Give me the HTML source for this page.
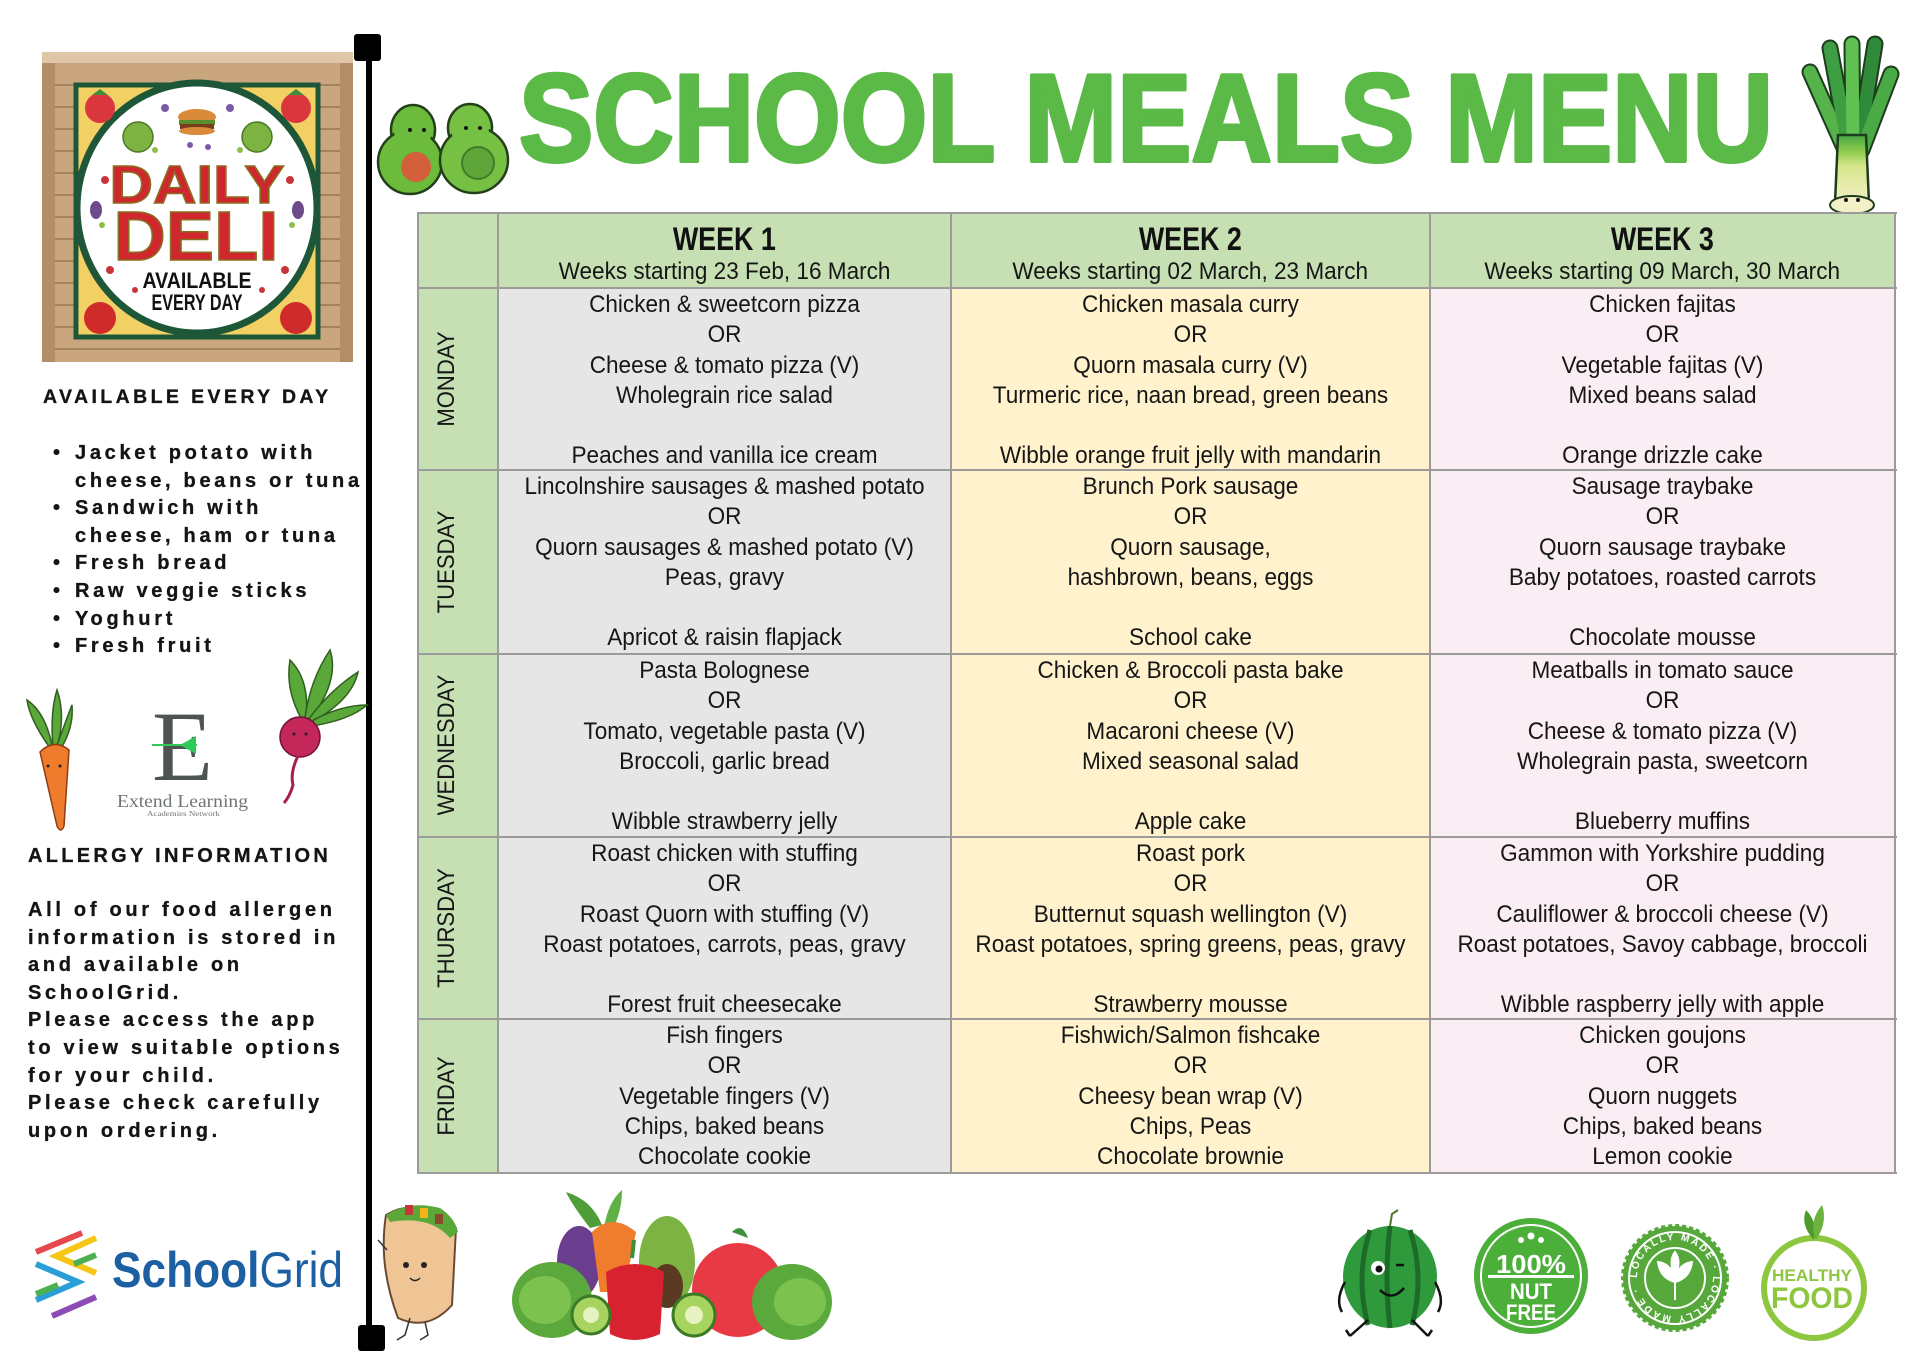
<!DOCTYPE html>
<html><head><meta charset="utf-8">
<style>
html,body{margin:0;padding:0;}
body{width:1920px;height:1356px;position:relative;overflow:hidden;background:#fff;font-family:"Liberation Sans",Arial,sans-serif;}
svg.bg{position:absolute;left:0;top:0;}
.cell{position:absolute;box-sizing:border-box;}
.txt{position:absolute;box-sizing:border-box;text-align:center;font-size:24px;line-height:30.3px;color:#161616;white-space:nowrap;padding-top:2px;}
.txt>div{transform:scaleX(0.94);}
.hl{position:absolute;height:2px;background:#9b9b9b;left:417px;width:1480px;}
.vl{position:absolute;width:2px;background:#9b9b9b;top:212px;height:962px;}
.day{position:absolute;font-size:24px;line-height:24px;color:#161616;white-space:nowrap;transform:translate(-50%,-50%) rotate(-90deg) scaleX(0.92);}
.wk{position:absolute;text-align:center;font-weight:bold;font-size:32px;line-height:32px;color:#111;white-space:nowrap;}
.wk span{display:inline-block;transform:scaleX(0.84);}
.ws{position:absolute;text-align:center;font-size:24px;line-height:30.3px;color:#161616;white-space:nowrap;}
.ws span{display:inline-block;transform:scaleX(0.94);}
.lt{position:absolute;font-weight:bold;font-size:20px;letter-spacing:3.7px;color:#141414;white-space:nowrap;line-height:27.6px;-webkit-text-stroke:0.3px #141414;}
.lt .b{position:absolute;left:-22px;}
</style></head><body>

<svg class="bg" width="1920" height="1356" viewBox="0 0 1920 1356" xmlns="http://www.w3.org/2000/svg">
<defs>
<linearGradient id="stalk" x1="0" y1="0" x2="0" y2="1">
<stop offset="0" stop-color="#47a844"/><stop offset="0.25" stop-color="#8fcb4e"/><stop offset="0.45" stop-color="#d6e68a"/><stop offset="1" stop-color="#f4efc8"/>
</linearGradient>
<path id="sealpath" d="M1675,1278 m-38,0 a38,38 0 1,1 76,0 a38,38 0 1,1 -76,0"/>
</defs>

<!-- Title -->
<text x="519" y="161" font-family="Liberation Sans, sans-serif" font-weight="bold" font-size="124" textLength="1254" lengthAdjust="spacingAndGlyphs" fill="#5bb947" stroke="#5bb947" stroke-width="4" stroke-linejoin="round">SCHOOL MEALS MENU</text>

<!-- Pole -->
<rect x="366" y="50" width="6" height="1285" fill="#000"/>
<rect x="354" y="34" width="27" height="27" rx="3" fill="#000"/>
<rect x="358" y="1325" width="27" height="26" rx="3" fill="#000"/>

<!-- Daily Deli sign -->
<g>
<rect x="42" y="52" width="311" height="310" fill="#c9a67e"/>
<rect x="42" y="52" width="311" height="11" fill="#dfc6a6"/>
<rect x="42" y="63" width="13" height="299" fill="#b38d66"/>
<rect x="340" y="63" width="13" height="299" fill="#b38d66"/>
<g stroke="#8a6846" stroke-width="1.5" opacity="0.75">
<line x1="55" y1="85" x2="340" y2="85"/><line x1="55" y1="107" x2="340" y2="107"/><line x1="55" y1="129" x2="340" y2="129"/>
<line x1="55" y1="151" x2="340" y2="151"/><line x1="55" y1="173" x2="340" y2="173"/><line x1="55" y1="195" x2="340" y2="195"/>
<line x1="55" y1="217" x2="340" y2="217"/><line x1="55" y1="239" x2="340" y2="239"/><line x1="55" y1="261" x2="340" y2="261"/>
<line x1="55" y1="283" x2="340" y2="283"/><line x1="55" y1="305" x2="340" y2="305"/><line x1="55" y1="327" x2="340" y2="327"/>
<line x1="55" y1="349" x2="340" y2="349"/>
</g>
<rect x="76" y="85" width="242" height="252" fill="#f3d064" stroke="#1e5638" stroke-width="5"/>
<ellipse cx="197" cy="208" rx="120" ry="125" fill="#fff" stroke="#1e5638" stroke-width="7"/>
<circle cx="100" cy="108" r="15" fill="#d9363e"/><circle cx="296" cy="108" r="15" fill="#d9363e"/>
<path d="M92,95 l8,-6 l8,6" fill="#3f8f3a"/><path d="M288,95 l8,-6 l8,6" fill="#3f8f3a"/>
<circle cx="100" cy="318" r="16" fill="#cf2b2b"/><circle cx="296" cy="318" r="16" fill="#cf2b2b"/>
<circle cx="138" cy="137" r="15" fill="#7cb342" stroke="#4b7a25" stroke-width="1.5"/>
<circle cx="257" cy="137" r="15" fill="#7cb342" stroke="#4b7a25" stroke-width="1.5"/>
<ellipse cx="197" cy="117" rx="19" ry="8" fill="#d98b3a"/>
<rect x="179" y="120" width="36" height="5" fill="#5a8f2e"/>
<rect x="180" y="124" width="34" height="5" fill="#7a3b1e"/>
<ellipse cx="197" cy="131" rx="18" ry="4" fill="#d98b3a"/>
<g fill="#7a5aa6"><circle cx="165" cy="108" r="4"/><circle cx="230" cy="108" r="4"/><circle cx="190" cy="145" r="3"/><circle cx="208" cy="147" r="3"/></g>
<g fill="#c8343a"><circle cx="105" cy="180" r="4"/><circle cx="290" cy="180" r="4"/><circle cx="110" cy="270" r="4"/><circle cx="285" cy="270" r="4"/><circle cx="135" cy="290" r="3"/><circle cx="262" cy="290" r="3"/></g>
<g fill="#8bbf4a"><circle cx="155" cy="150" r="3"/><circle cx="240" cy="150" r="3"/><circle cx="102" cy="225" r="3"/><circle cx="292" cy="225" r="3"/></g>
<ellipse cx="96" cy="210" rx="6" ry="9" fill="#6d4a8c"/><ellipse cx="298" cy="210" rx="6" ry="9" fill="#6d4a8c"/>
<text x="197" y="203" text-anchor="middle" font-family="Liberation Sans, sans-serif" font-weight="bold" font-size="54" textLength="175" lengthAdjust="spacingAndGlyphs" fill="#d0262d" stroke="#8a6d1f" stroke-width="1.5">DAILY</text>
<text x="196" y="260" text-anchor="middle" font-family="Liberation Sans, sans-serif" font-weight="bold" font-size="70" textLength="165" lengthAdjust="spacingAndGlyphs" fill="#d0262d" stroke="#8a6d1f" stroke-width="1.5">DELI</text>
<text x="197" y="288" text-anchor="middle" font-family="Liberation Sans, sans-serif" font-weight="bold" font-size="22" textLength="109" lengthAdjust="spacingAndGlyphs" fill="#111">AVAILABLE</text>
<text x="197" y="310" text-anchor="middle" font-family="Liberation Sans, sans-serif" font-weight="bold" font-size="22" textLength="91" lengthAdjust="spacingAndGlyphs" fill="#111">EVERY DAY</text>
</g>

<!-- Avocados -->
<g stroke="#23401a" stroke-width="2.5">
<ellipse cx="413" cy="130" rx="22" ry="25" fill="#6cbb3c"/>
<ellipse cx="410" cy="162" rx="32" ry="32" fill="#6cbb3c"/>
<ellipse cx="470" cy="128" rx="22" ry="24" fill="#76c043"/>
<ellipse cx="474" cy="160" rx="34" ry="33" fill="#76c043"/>
</g>
<ellipse cx="413" cy="130" rx="19" ry="22" fill="#6cbb3c"/>
<ellipse cx="470" cy="128" rx="19" ry="21" fill="#76c043"/>
<circle cx="416" cy="167" r="15" fill="#d3603a"/>
<circle cx="478" cy="163" r="16" fill="#5ea63a" stroke="#3d7d2a" stroke-width="2"/>
<g fill="#111"><circle cx="410" cy="130" r="2"/><circle cx="424" cy="130" r="2"/><circle cx="466" cy="128" r="2"/><circle cx="480" cy="128" r="2"/></g>

<!-- Leek -->
<g stroke-linecap="round">
<g stroke="#1d3d1d" stroke-width="17">
<line x1="1845" y1="150" x2="1810" y2="72"/><line x1="1849" y1="150" x2="1830" y2="48"/>
<line x1="1853" y1="150" x2="1852" y2="44"/><line x1="1858" y1="150" x2="1875" y2="44"/>
<line x1="1862" y1="150" x2="1891" y2="74"/>
</g>
<line x1="1845" y1="150" x2="1810" y2="72" stroke="#55b34a" stroke-width="13"/>
<line x1="1849" y1="150" x2="1830" y2="48" stroke="#3e9e42" stroke-width="13"/>
<line x1="1858" y1="150" x2="1875" y2="44" stroke="#2f8a3a" stroke-width="13"/>
<line x1="1862" y1="150" x2="1891" y2="74" stroke="#4aaa45" stroke-width="13"/>
<line x1="1853" y1="150" x2="1852" y2="44" stroke="#60c052" stroke-width="13"/>
</g>
<path d="M1838,135 L1866,135 L1869,203 L1835,203 Z" fill="url(#stalk)" stroke="#1d3d1d" stroke-width="2.5"/>
<ellipse cx="1852" cy="205" rx="22" ry="9" fill="#f3efc6" stroke="#1d3d1d" stroke-width="2"/>
<circle cx="1846" cy="200" r="2" fill="#111"/><circle cx="1858" cy="200" r="2" fill="#111"/>

<!-- Carrot -->
<g fill="#5aa83a" stroke="#2f5e1e" stroke-width="1.5">
<path d="M50,748 Q30,720 27,700 Q45,712 52,745 Z"/>
<path d="M53,748 Q50,712 57,690 Q66,715 57,748 Z"/>
<path d="M56,748 Q68,715 72,705 Q74,728 60,750 Z"/>
</g>
<path d="M40,752 Q54,738 69,750 L64,826 Q61,834 57,826 Z" fill="#ef7b2c" stroke="#8e3d12" stroke-width="1.5"/>
<circle cx="48" cy="766" r="1.5" fill="#222"/><circle cx="60" cy="766" r="1.5" fill="#222"/>

<!-- Extend Learning logo -->
<text x="152" y="780" font-family="Liberation Serif, serif" font-size="100" textLength="61" lengthAdjust="spacingAndGlyphs" fill="#4d5453">E</text>
<rect x="152" y="744" width="45" height="2" fill="#2fc95a"/>
<path d="M180,745 L196,736 L196,754 Z" fill="#2fc95a"/>
<text x="117" y="807" font-family="Liberation Serif, serif" font-size="18" textLength="131" lengthAdjust="spacingAndGlyphs" fill="#6f7573">Extend Learning</text>
<text x="147" y="816" font-family="Liberation Serif, serif" font-size="7" textLength="73" lengthAdjust="spacingAndGlyphs" fill="#6f7573">Academies Network</text>

<!-- Beetroot -->
<g fill="#5aa83a" stroke="#2f5e1e" stroke-width="1.5">
<path d="M302,720 Q285,690 290,660 Q310,680 306,718 Z"/>
<path d="M305,718 Q310,680 330,650 Q340,680 310,720 Z"/>
<path d="M308,720 Q330,690 358,672 Q352,700 312,722 Z"/>
<path d="M310,722 Q340,705 367,705 Q350,720 312,726 Z"/>
</g>
<circle cx="300" cy="737" r="20" fill="#c4275a" stroke="#6e1432" stroke-width="1.5"/>
<path d="M298,756 Q290,772 293,785 Q290,796 284,803" fill="none" stroke="#a81e4b" stroke-width="3"/>
<circle cx="294" cy="734" r="1.5" fill="#222"/><circle cx="306" cy="734" r="1.5" fill="#222"/>

<!-- SchoolGrid logo -->
<g fill="none" stroke-width="6" stroke-linecap="butt">
<line x1="36" y1="1252" x2="82" y2="1233" stroke="#e5484d"/>
<polyline points="96,1238 56,1256 96,1273" stroke="#f5c518"/>
<line x1="74" y1="1264" x2="96" y2="1255" stroke="#4caf50"/>
<polyline points="36,1264 78,1282 36,1300" stroke="#2a9fd6"/>
<line x1="36" y1="1294" x2="58" y2="1285" stroke="#4caf50"/>
<line x1="52" y1="1316" x2="96" y2="1297" stroke="#8e4bb5"/>
</g>
<text x="112" y="1287" font-family="Liberation Sans, sans-serif" font-size="50" fill="#1d5fa3" textLength="231" lengthAdjust="spacingAndGlyphs"><tspan font-weight="bold">School</tspan>Grid</text>

<!-- Burrito -->
<path d="M386,1215 Q420,1195 456,1228 L452,1305 Q428,1332 398,1318 Q378,1265 386,1215 Z" fill="#f0c596" stroke="#6b4a33" stroke-width="2"/>
<path d="M386,1215 Q410,1200 440,1208 Q455,1218 458,1232 L450,1238 Q430,1215 390,1222 Z" fill="#5aa83a"/>
<rect x="405" y="1205" width="8" height="10" fill="#c8343a"/><rect x="420" y="1208" width="8" height="10" fill="#f2b418"/><rect x="435" y="1214" width="8" height="10" fill="#8a4a2a"/>
<circle cx="406" cy="1265" r="3" fill="#222"/><circle cx="424" cy="1265" r="3" fill="#222"/>
<path d="M410,1278 Q415,1283 420,1278" fill="none" stroke="#222" stroke-width="1.5"/>
<path d="M410,1318 L405,1335 L397,1340 M425,1322 L428,1335 L420,1340 M387,1250 L378,1240" fill="none" stroke="#333" stroke-width="1.5"/>

<!-- Vegetable pile -->
<path d="M590,1228 Q572,1205 566,1192 Q592,1200 602,1225 Z" fill="#4f9e3a"/>
<path d="M604,1228 Q608,1202 622,1190 Q622,1212 612,1230 Z" fill="#5fb146"/>
<ellipse cx="579" cy="1262" rx="22" ry="36" fill="#6a3d8f"/>
<path d="M592,1232 Q612,1212 636,1232 L624,1292 L600,1292 Z" fill="#ef7d2d"/>
<ellipse cx="667" cy="1262" rx="28" ry="46" fill="#7cb342"/>
<ellipse cx="667" cy="1286" rx="16" ry="22" fill="#5a3a22"/>
<path d="M732,1232 Q742,1222 748,1238 Z" fill="#3f8f3a"/>
<ellipse cx="738" cy="1290" rx="46" ry="47" fill="#e73a45"/>
<ellipse cx="552" cy="1300" rx="40" ry="38" fill="#5ba83c"/>
<ellipse cx="545" cy="1300" rx="26" ry="24" fill="#7cc24e"/>
<path d="M606,1272 Q635,1256 664,1272 L660,1334 Q634,1346 610,1334 Z" fill="#d9222f"/>
<path d="M632,1258 L634,1240" stroke="#3f8f3a" stroke-width="4"/>
<ellipse cx="792" cy="1302" rx="40" ry="38" fill="#5ba83c"/>
<ellipse cx="800" cy="1302" rx="26" ry="24" fill="#7cc24e"/>
<circle cx="591" cy="1315" r="19" fill="#a6d45e" stroke="#3d7a25" stroke-width="3"/>
<circle cx="591" cy="1315" r="8" fill="#e6f2c2"/>
<circle cx="694" cy="1315" r="21" fill="#a6d45e" stroke="#3d7a25" stroke-width="3"/>
<circle cx="694" cy="1315" r="9" fill="#e6f2c2"/>

<!-- Watermelon -->
<ellipse cx="1390" cy="1277" rx="47" ry="51" fill="#2f9a3c"/>
<g fill="none" stroke="#1c6b28" stroke-width="5">
<path d="M1370,1230 Q1355,1277 1368,1325"/><path d="M1390,1226 Q1384,1277 1390,1328"/><path d="M1410,1230 Q1425,1277 1412,1325"/>
</g>
<path d="M1390,1226 l2,-12 l6,-4" fill="none" stroke="#4a7a2a" stroke-width="2"/>
<circle cx="1378" cy="1268" r="7" fill="#fff"/><circle cx="1379" cy="1269" r="3.5" fill="#111"/>
<path d="M1396,1265 l8,0" stroke="#111" stroke-width="2.5"/>
<path d="M1380,1290 Q1392,1302 1404,1288" fill="none" stroke="#111" stroke-width="2.5"/>
<path d="M1368,1320 L1350,1336 M1350,1336 l-4,-6 M1412,1320 L1428,1336 M1428,1336 l4,-6 M1345,1282 Q1335,1300 1342,1312 M1435,1282 Q1445,1300 1438,1312" fill="none" stroke="#111" stroke-width="2.5"/>

<!-- Nut free badge -->
<ellipse cx="1531" cy="1276" rx="57" ry="58" fill="#4caf3a"/>
<ellipse cx="1531" cy="1276" rx="50" ry="51" fill="none" stroke="#fff" stroke-width="2"/>
<rect x="1488" y="1275" width="86" height="3" fill="#fff"/>
<g fill="#fff"><circle cx="1521" cy="1240" r="3"/><circle cx="1531" cy="1236" r="3.5"/><circle cx="1541" cy="1240" r="3"/></g>
<text x="1531" y="1273" text-anchor="middle" font-family="Liberation Sans, sans-serif" font-weight="bold" font-size="26" fill="#fff" textLength="70" lengthAdjust="spacingAndGlyphs">100%</text>
<text x="1531" y="1299" text-anchor="middle" font-family="Liberation Sans, sans-serif" font-weight="bold" font-size="22" fill="#fff" textLength="42" lengthAdjust="spacingAndGlyphs">NUT</text>
<text x="1531" y="1320" text-anchor="middle" font-family="Liberation Sans, sans-serif" font-weight="bold" font-size="22" fill="#fff" textLength="50" lengthAdjust="spacingAndGlyphs">FREE</text>

<!-- Locally made seal -->
<circle cx="1675" cy="1278" r="52" fill="#56a83b" stroke="#56a83b" stroke-width="4" stroke-dasharray="4 3"/>
<circle cx="1675" cy="1278" r="46" fill="none" stroke="#fff" stroke-width="2"/>
<circle cx="1675" cy="1278" r="30" fill="none" stroke="#fff" stroke-width="2"/>
<text font-family="Liberation Sans, sans-serif" font-weight="bold" font-size="10" fill="#fff" letter-spacing="2"><textPath href="#sealpath">LOCALLY MADE · LOCALLY MADE ·</textPath></text>
<path d="M1675,1300 L1675,1275 M1675,1282 Q1660,1278 1658,1262 Q1672,1264 1675,1280 M1675,1282 Q1690,1278 1692,1262 Q1678,1264 1675,1280 M1675,1275 Q1668,1262 1675,1252 Q1682,1262 1675,1275" fill="#fff" stroke="#fff" stroke-width="2"/>

<!-- Healthy food -->
<circle cx="1814" cy="1288" r="50" fill="#fff" stroke="#8dc63f" stroke-width="6"/>
<path d="M1814,1240 Q1800,1225 1806,1210 Q1818,1222 1814,1240 Z" fill="#4e9a2e"/>
<path d="M1816,1240 Q1828,1222 1822,1205 Q1808,1222 1816,1240 Z" fill="#6cb33f"/>
<text x="1812" y="1281" text-anchor="middle" font-family="Liberation Sans, sans-serif" font-weight="bold" font-size="17" fill="#8dc63f" textLength="80" lengthAdjust="spacingAndGlyphs">HEALTHY</text>
<text x="1812" y="1308" text-anchor="middle" font-family="Liberation Sans, sans-serif" font-weight="bold" font-size="30" fill="#8dc63f" textLength="82" lengthAdjust="spacingAndGlyphs">FOOD</text>
</svg>

<!-- Left panel text -->
<div class="lt" style="left:43px;top:384px;font-size:19.5px;letter-spacing:3.4px;">AVAILABLE EVERY DAY</div>
<div class="lt" style="left:75px;top:440px;">
<div><span class="b">•</span>Jacket potato with</div>
<div>cheese, beans or tuna</div>
<div><span class="b">•</span>Sandwich with</div>
<div>cheese, ham or tuna</div>
<div><span class="b">•</span>Fresh bread</div>
<div><span class="b">•</span>Raw veggie sticks</div>
<div><span class="b">•</span>Yoghurt</div>
<div><span class="b">•</span>Fresh fruit</div>
</div>
<div class="lt" style="left:28px;top:843px;letter-spacing:3.3px;">ALLERGY INFORMATION</div>
<div class="lt" style="left:28px;top:897px;">
<div>All of our food allergen</div>
<div>information is stored in</div>
<div>and available on</div>
<div>SchoolGrid.</div>
<div>Please access the app</div>
<div>to view suitable options</div>
<div>for your child.</div>
<div>Please check carefully</div>
<div>upon ordering.</div>
</div>

<!-- Table backgrounds -->
<div class="cell" style="left:418px;top:213px;width:1477px;height:75px;background:#c6e0b4;"></div>
<div class="cell" style="left:418px;top:288px;width:80px;height:885px;background:#c6e0b4;"></div>
<div class="cell" style="left:498px;top:288px;width:453px;height:885px;background:#e7e6e6;"></div>
<div class="cell" style="left:951px;top:288px;width:479px;height:885px;background:#fff2cc;"></div>
<div class="cell" style="left:1430px;top:288px;width:465px;height:885px;background:#fbedf4;"></div>

<!-- Grid lines -->
<div class="hl" style="top:212px"></div>
<div class="hl" style="top:287px"></div>
<div class="hl" style="top:469px"></div>
<div class="hl" style="top:653px"></div>
<div class="hl" style="top:836px"></div>
<div class="hl" style="top:1018px"></div>
<div class="hl" style="top:1172px"></div>
<div class="vl" style="left:417px"></div>
<div class="vl" style="left:497px"></div>
<div class="vl" style="left:950px"></div>
<div class="vl" style="left:1429px"></div>
<div class="vl" style="left:1894px"></div>

<!-- Header -->
<div class="wk" style="left:498px;top:223px;width:453px;"><span>WEEK 1</span></div>
<div class="wk" style="left:951px;top:223px;width:479px;"><span>WEEK 2</span></div>
<div class="wk" style="left:1430px;top:223px;width:465px;"><span>WEEK 3</span></div>
<div class="ws" style="left:498px;top:257px;width:453px;"><span>Weeks starting 23 Feb, 16 March</span></div>
<div class="ws" style="left:951px;top:257px;width:479px;"><span>Weeks starting 02 March, 23 March</span></div>
<div class="ws" style="left:1430px;top:257px;width:465px;"><span>Weeks starting 09 March, 30 March</span></div>

<!-- Day labels -->
<div class="day" style="left:447px;top:379px;">MONDAY</div>
<div class="day" style="left:447px;top:562px;">TUESDAY</div>
<div class="day" style="left:447px;top:745px;">WEDNESDAY</div>
<div class="day" style="left:447px;top:928px;">THURSDAY</div>
<div class="day" style="left:447px;top:1096px;">FRIDAY</div>

<!-- Week 1 -->
<div class="txt" style="left:498px;top:288px;width:453px;"><div>Chicken &amp; sweetcorn pizza<br>OR<br>Cheese &amp; tomato pizza (V)<br>Wholegrain rice salad<br><br>Peaches and vanilla ice cream</div></div>
<div class="txt" style="left:498px;top:470px;width:453px;"><div>Lincolnshire sausages &amp; mashed potato<br>OR<br>Quorn sausages &amp; mashed potato (V)<br>Peas, gravy<br><br>Apricot &amp; raisin flapjack</div></div>
<div class="txt" style="left:498px;top:654px;width:453px;"><div>Pasta Bolognese<br>OR<br>Tomato, vegetable pasta (V)<br>Broccoli, garlic bread<br><br>Wibble strawberry jelly</div></div>
<div class="txt" style="left:498px;top:837px;width:453px;"><div>Roast chicken with stuffing<br>OR<br>Roast Quorn with stuffing (V)<br>Roast potatoes, carrots, peas, gravy<br><br>Forest fruit cheesecake</div></div>
<div class="txt" style="left:498px;top:1019px;width:453px;"><div>Fish fingers<br>OR<br>Vegetable fingers (V)<br>Chips, baked beans<br>Chocolate cookie</div></div>

<!-- Week 2 -->
<div class="txt" style="left:951px;top:288px;width:479px;"><div>Chicken masala curry<br>OR<br>Quorn masala curry (V)<br>Turmeric rice, naan bread, green beans<br><br>Wibble orange fruit jelly with mandarin</div></div>
<div class="txt" style="left:951px;top:470px;width:479px;"><div>Brunch Pork sausage<br>OR<br>Quorn sausage,<br>hashbrown, beans, eggs<br><br>School cake</div></div>
<div class="txt" style="left:951px;top:654px;width:479px;"><div>Chicken &amp; Broccoli pasta bake<br>OR<br>Macaroni cheese (V)<br>Mixed seasonal salad<br><br>Apple cake</div></div>
<div class="txt" style="left:951px;top:837px;width:479px;"><div>Roast pork<br>OR<br>Butternut squash wellington (V)<br>Roast potatoes, spring greens, peas, gravy<br><br>Strawberry mousse</div></div>
<div class="txt" style="left:951px;top:1019px;width:479px;"><div>Fishwich/Salmon fishcake<br>OR<br>Cheesy bean wrap (V)<br>Chips, Peas<br>Chocolate brownie</div></div>

<!-- Week 3 -->
<div class="txt" style="left:1430px;top:288px;width:465px;"><div>Chicken fajitas<br>OR<br>Vegetable fajitas (V)<br>Mixed beans salad<br><br>Orange drizzle cake</div></div>
<div class="txt" style="left:1430px;top:470px;width:465px;"><div>Sausage traybake<br>OR<br>Quorn sausage traybake<br>Baby potatoes, roasted carrots<br><br>Chocolate mousse</div></div>
<div class="txt" style="left:1430px;top:654px;width:465px;"><div>Meatballs in tomato sauce<br>OR<br>Cheese &amp; tomato pizza (V)<br>Wholegrain pasta, sweetcorn<br><br>Blueberry muffins</div></div>
<div class="txt" style="left:1430px;top:837px;width:465px;"><div>Gammon with Yorkshire pudding<br>OR<br>Cauliflower &amp; broccoli cheese (V)<br>Roast potatoes, Savoy cabbage, broccoli<br><br>Wibble raspberry jelly with apple</div></div>
<div class="txt" style="left:1430px;top:1019px;width:465px;"><div>Chicken goujons<br>OR<br>Quorn nuggets<br>Chips, baked beans<br>Lemon cookie</div></div>

</body></html>
